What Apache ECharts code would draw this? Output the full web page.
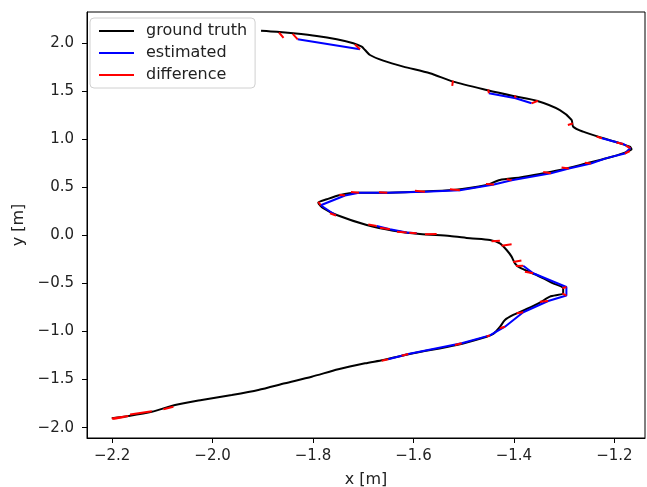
<!DOCTYPE html>
<html><head><meta charset="utf-8">
<script src="https://cdn.jsdelivr.net/npm/echarts@6/dist/echarts.min.js"></script>
<style>html,body{margin:0;padding:0;background:#fff}#c{width:647px;height:487px}</style>
</head><body><div id="c"></div>
<script>
// ---- tick labels ----
const xTicks = [-2.2, -2.0, -1.8, -1.6, -1.4, -1.2];
const yTicks = [-2.0, -1.5, -1.0, -0.5, 0.0, 0.5, 1.0, 1.5, 2.0];
const legendNames = ['ground truth', 'estimated', 'difference'];

// ---- ground truth trajectory ----
const gtX = [-2.2006,-2.1676,-2.121,-2.0746,-2.0215,-1.9618,-1.9089,-1.8557,-1.8026,-1.7497,-1.6965,-1.6601,-1.6004,-1.514,-1.4543,-1.4412,-1.4279,-1.4179,-1.4014,-1.3747,-1.3483,-1.3284,-1.3019,-1.3019,-1.3218,-1.3548,-1.3881,-1.398,-1.4046,-1.4145,-1.4279,-1.4478,-1.4876,-1.5274,-1.5871,-1.6402,-1.6931,-1.7528,-1.7795,-1.7895,-1.7727,-1.7463,-1.713,-1.6601,-1.5936,-1.5208,-1.4543,-1.4279,-1.3881,-1.3483,-1.3085,-1.2553,-1.2155,-1.1791,-1.1658,-1.1692,-1.1956,-1.2322,-1.2621,-1.282,-1.2852,-1.3085,-1.3548,-1.4014,-1.4543,-1.5208,-1.5672,-1.6203,-1.6601,-1.6866,-1.6965,-1.7031,-1.7198,-1.7528,-1.7926,-1.8392,-1.8722,-1.9035];
const gtY = [-1.902,-1.878,-1.834,-1.764,-1.712,-1.660,-1.608,-1.538,-1.470,-1.393,-1.331,-1.296,-1.227,-1.140,-1.054,-1.026,-0.953,-0.880,-0.828,-0.766,-0.699,-0.638,-0.603,-0.551,-0.499,-0.413,-0.337,-0.291,-0.222,-0.153,-0.083,-0.049,-0.031,-0.007,0.014,0.048,0.107,0.211,0.281,0.339,0.374,0.419,0.443,0.443,0.453,0.471,0.523,0.575,0.601,0.637,0.679,0.748,0.800,0.859,0.894,0.921,0.967,1.025,1.077,1.129,1.199,1.302,1.399,1.448,1.510,1.597,1.684,1.753,1.815,1.874,1.926,1.960,1.996,2.037,2.072,2.100,2.116,2.127];

// ---- estimated trajectory (null = gap) ----
const estX = [-1.8305,-1.7065,null,-1.4498,-1.3966,-1.3648,null,-1.2249,-1.1825,-1.1682,-1.1791,-1.2155,-1.2468,-1.2906,-1.3264,-1.4046,-1.4398,-1.5075,-1.5771,-1.6522,-1.7085,-1.7363,-1.7847,-1.7542,null,-1.6732,-1.6468,-1.6135,-1.5936,null,-1.3815,-1.3616,-1.2955,-1.2955,-1.3318,-1.3815,-1.4179,-1.4478,-1.5041,-1.6104,-1.6502];
const estY = [2.037,1.933,null,1.476,1.424,1.372,null,1.008,0.949,0.907,0.850,0.802,0.746,0.694,0.644,0.572,0.528,0.468,0.453,0.442,0.442,0.414,0.312,0.206,null,0.097,0.062,0.029,0.021,null,-0.316,-0.395,-0.537,-0.626,-0.683,-0.800,-0.950,-1.040,-1.123,-1.234,-1.289];

// ---- difference segments: ground-truth end (A) to estimate end (B) ----
const diffAX = [-1.8677,-1.8404,-1.7164,-1.5214,-1.4512,-1.398,-1.3523,-1.2826,-1.2354,-1.1956,-1.1771,-1.1692,-1.2587,-1.3051,-1.3417,-1.4145,-1.4557,-1.5274,-1.597,-1.6687,-1.7244,-1.7477,-1.7895,-1.7662,-1.690,-1.6667,-1.6328,-1.6084,-1.5771,-1.4444,-1.4245,-1.4014,-1.396,-1.3781,-1.3035,-1.3035,-1.3483,-1.3946,-1.4279,-1.4543,-1.5174,-1.6235,-1.6633,-2.2006,-2.198,-2.1642,-2.0979];
const diffAY = [2.108,2.093,1.983,1.607,1.516,1.453,1.399,1.162,1.027,0.965,0.933,0.876,0.755,0.705,0.658,0.582,0.533,0.478,0.464,0.447,0.450,0.421,0.349,0.229,0.112,0.079,0.037,0.027,0.010,-0.062,-0.108,-0.278,-0.319,-0.378,-0.551,-0.603,-0.690,-0.811,-0.967,-1.052,-1.140,-1.252,-1.304,-1.904,-1.910,-1.863,-1.809];
const diffBX = [-1.8587,-1.8305,-1.7065,-1.5228,-1.4498,-1.3966,-1.3648,-1.2926,-1.2249,-1.1825,-1.1682,-1.1791,-1.2468,-1.2906,-1.3264,-1.4046,-1.4398,-1.5075,-1.5771,-1.6522,-1.7085,-1.7363,-1.7847,-1.7542,-1.6732,-1.6468,-1.6135,-1.5936,-1.5538,-1.4279,-1.4046,-1.3851,-1.3815,-1.3616,-1.2955,-1.2955,-1.3318,-1.3815,-1.4179,-1.4478,-1.5041,-1.6104,-1.6502,-2.1676,-2.1761,-2.121,-2.078];
const diffBY = [2.051,2.037,1.933,1.552,1.476,1.424,1.372,1.147,1.008,0.949,0.907,0.850,0.746,0.694,0.644,0.572,0.528,0.468,0.453,0.442,0.442,0.414,0.312,0.206,0.097,0.062,0.029,0.021,0.014,-0.056,-0.094,-0.262,-0.316,-0.395,-0.537,-0.626,-0.683,-0.800,-0.950,-1.040,-1.123,-1.234,-1.289,-1.878,-1.889,-1.830,-1.782];

// ---- build series data ----
const gtData = gtX.map((x, i) => [x, gtY[i]]);
const estData = estX.map((x, i) => (x === null ? ['-', '-'] : [x, estY[i]]));
const diffData = [];
diffAX.forEach((x, i) => {
  diffData.push([x, diffAY[i]], [diffBX[i], diffBY[i]], ['-', '-']);
});

const fmt = v => (v < 0 ? '\u2212' : '') + Math.abs(v).toFixed(1);
const FONT = 'DejaVu Sans';
const TXT = '#222';

const chart = echarts.init(document.getElementById('c'), null, {renderer: 'canvas'});
chart.setOption({
  animation: false,
  backgroundColor: '#fff',
  textStyle: {fontFamily: FONT},
  grid: {left: 87, right: 2, top: 12, bottom: 49, show: true, borderColor: '#000', borderWidth: 1,
         backgroundColor: 'transparent', containLabel: false, outerBoundsMode: 'none'},
  xAxis: {
    type: 'value', min: -2.25, max: -1.139,
    name: 'x [m]', nameLocation: 'middle', nameGap: 34,
    nameTextStyle: {fontSize: 16, color: TXT, fontFamily: FONT},
    axisLine: {show: true, onZero: false, lineStyle: {color: '#000', width: 1}},
    axisTick: {show: true, length: 5, customValues: xTicks, lineStyle: {color: '#000', width: 1}},
    axisLabel: {customValues: xTicks, fontSize: 15, color: TXT, margin: 11, formatter: fmt, fontFamily: FONT},
    splitLine: {show: false}
  },
  yAxis: {
    type: 'value', min: -2.107, max: 2.321,
    name: 'y [m]', nameLocation: 'middle', nameGap: 54, nameRotate: 90,
    nameTextStyle: {fontSize: 16, color: TXT, fontFamily: FONT},
    axisLine: {show: true, onZero: false, lineStyle: {color: '#000', width: 1}},
    axisTick: {show: true, length: 5, customValues: yTicks, lineStyle: {color: '#000', width: 1}},
    axisLabel: {customValues: yTicks, fontSize: 15, color: TXT, margin: 13, formatter: fmt, fontFamily: FONT},
    splitLine: {show: false}
  },
  legend: {
    data: legendNames, orient: 'vertical', left: 90, top: 18,
    icon: 'rect', itemWidth: 35, itemHeight: 2, itemGap: 4,
    padding: [4, 8, 4, 9],
    backgroundColor: 'rgba(255,255,255,0.85)', borderColor: '#d0d0d0', borderWidth: 1, borderRadius: 4,
    textStyle: {fontSize: 16, color: TXT, lineHeight: 18, padding: [0, 0, 0, 7], fontFamily: FONT},
    selectedMode: false
  },
  series: [
    {type: 'line', name: legendNames[0], data: gtData, symbol: 'none', connectNulls: false, smooth: 0.25,
     lineStyle: {color: '#000', width: 2}, itemStyle: {color: '#000'}, z: 2, silent: true},
    {type: 'line', name: legendNames[1], data: estData, symbol: 'none', connectNulls: false,
     lineStyle: {color: '#0000ff', width: 2}, itemStyle: {color: '#0000ff'}, z: 3, silent: true},
    {type: 'line', name: legendNames[2], data: diffData, symbol: 'none', connectNulls: false,
     lineStyle: {color: '#ff0000', width: 2}, itemStyle: {color: '#ff0000'}, z: 4, silent: true}
  ]
});
</script>
</body></html>
